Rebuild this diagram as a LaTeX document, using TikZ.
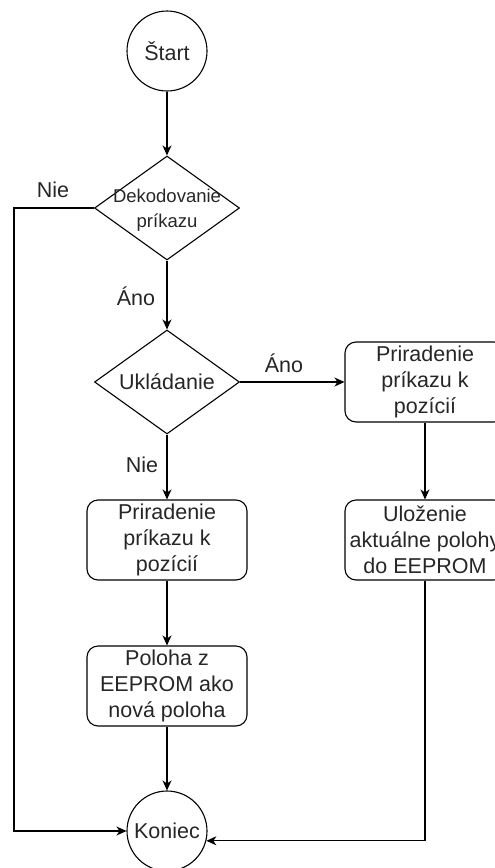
\documentclass[tikz,border=0pt]{standalone}
\usepackage{fontspec}
\setmainfont{Liberation Sans}
\usetikzlibrary{shapes.geometric,arrows.meta}
\definecolor{txt}{HTML}{262626}
\tikzset{
  x=1pt, y=-1pt,
  base/.style={draw=black, line width=1.1pt, text=txt, font=\fontsize{21.5}{26}\selectfont},
  terminal/.style={base, circle, minimum size=80pt, inner sep=1pt},
  procbox/.style={base, rounded corners=11pt, minimum width=160pt, minimum height=80pt,
                  inner sep=0pt, align=center},
  decision/.style={base, diamond, minimum width=145pt, minimum height=104pt, inner sep=0pt},
  plain/.style={text=txt, inner sep=0pt, align=center, font=\fontsize{21.5}{26}\selectfont},
  arr/.style={line width=1.1pt, -{Stealth[length=10pt,width=9pt,inset=3pt]}},
  link/.style={line width=1.1pt}
}
\begin{document}
\begin{tikzpicture}
\useasboundingbox (0,0) rectangle (495,868);

% nodes
\node[terminal] (start) at (167,51) {Štart};
\node[decision] (dec) at (167,208) {};
\node[plain, font=\fontsize{18.5}{25}\selectfont] (dect) at (167,210) {Dekodovanie\\príkazu};
\node[decision] (ukl) at (167,382) {};
\node[plain] (uklt) at (167,382) {Ukládanie};
\node[procbox] (rb1) at (425,382) {Priradenie\\príkazu k\\pozícií};
\node[procbox] (rb2) at (425,540) {Uloženie\\aktuálne polohy\\do EEPROM};
\node[procbox] (lb1) at (167,540) {Priradenie\\príkazu k\\pozícií};
\node[procbox] (lb2) at (167,686) {Poloha z\\EEPROM ako\\nová poloha};
\node[terminal] (kon) at (167,831) {Koniec};

\coordinate (lft) at (14,208);

% edge labels
\node[plain] (lnie1) at (53,190) {Nie};
\node[plain] (lano1) at (136,296) {Áno};
\node[plain] (lano2) at (284,363) {Áno};
\node[plain] (lnie2) at (142,465) {Nie};

% connectors
\draw[arr] (start) -- (dec.north);
\draw[arr] (dec.west) -- (lft) |- (kon.west);
\draw[arr] (dec.south) -- (ukl.north);
\draw[arr] (ukl.east) -- (rb1.west);
\draw[arr] (rb1) -- (rb2);
\draw[arr] (rb2.south) |- (kon.-14.5);
\draw[arr] (ukl.south) -- (lb1.north);
\draw[arr] (lb1) -- (lb2);
\draw[arr] (lb2) -- (kon);
\end{tikzpicture}
\end{document}
